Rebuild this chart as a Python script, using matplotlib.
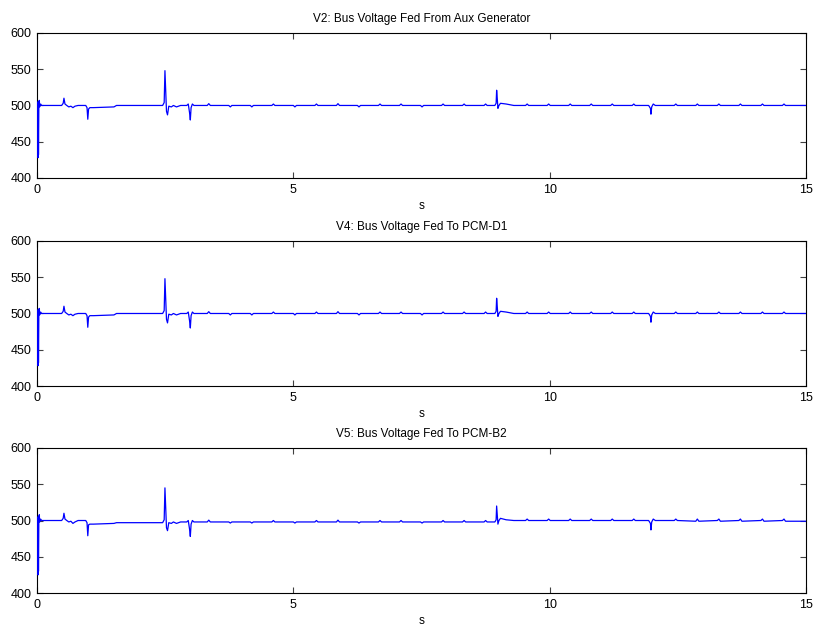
import matplotlib
matplotlib.use("Agg")
import matplotlib.pyplot as plt

plt.rcParams['font.family'] = ['Liberation Sans', 'DejaVu Sans']

titles = ["V2: Bus Voltage Fed From Aux Generator",
          "V4: Bus Voltage Fed To PCM-D1",
          "V5: Bus Voltage Fed To PCM-B2"]

# time points (s)
t = [0.000, 0.012, 0.016, 0.020, 0.024, 0.028, 0.036, 0.045, 0.050, 0.070,
     0.090, 0.480, 0.510, 0.525, 0.545, 0.580, 0.620, 0.660, 0.700, 0.740,
     0.800, 0.950, 0.975, 0.990, 1.005, 1.030, 1.100, 1.500, 1.550, 2.450,
     2.480, 2.495, 2.510, 2.525, 2.545, 2.570, 2.620, 2.660, 2.720, 2.800,
     2.920, 2.950, 2.975, 2.990, 3.005, 3.030, 3.060,
     3.32, 3.35, 3.38, 3.74, 3.77, 3.80, 4.16, 4.19, 4.22, 4.58, 4.61, 4.64,
     5.00, 5.03, 5.06, 5.42, 5.45, 5.48, 5.84, 5.87, 5.90, 6.25, 6.28, 6.31,
     6.66, 6.69, 6.72, 7.07, 7.10, 7.13, 7.48, 7.51, 7.54, 7.89, 7.92, 7.95,
     8.30, 8.33, 8.36, 8.72, 8.75, 8.78,
     8.930, 8.955, 8.965, 8.975, 8.990, 9.010, 9.040, 9.150, 9.300,
     9.53, 9.56, 9.59, 9.95, 9.98, 10.01, 10.37, 10.40, 10.43, 10.78, 10.81, 10.84,
     11.19, 11.22, 11.25, 11.61, 11.64, 11.67,
     11.930, 11.965, 11.975, 11.990, 12.020, 12.060,
     12.43, 12.46, 12.49, 12.85, 12.88, 12.91, 13.27, 13.30, 13.33, 13.69, 13.72, 13.75,
     14.12, 14.15, 14.18, 14.54, 14.57, 14.60,
     15.00]

# bus voltages (V)
v2 = [500, 430, 505, 428, 500, 432, 506, 507, 498, 502,
      500, 500, 503, 510, 502, 500, 498, 499, 497, 499,
      500, 500, 497, 481, 495, 497, 497, 498, 500, 500,
      504, 548, 518, 492, 487, 499, 498, 500, 498, 500,
      500, 502, 490, 480, 497, 502, 500,
      500, 502.5, 500, 500, 498, 500, 500, 498, 500, 500, 502, 500,
      500, 498, 500, 500, 502, 500, 500, 502.5, 500, 500, 498, 500,
      500, 502, 500, 500, 502, 500, 500, 498, 500, 500, 502, 500,
      500, 502, 500, 500, 502, 500,
      500, 503, 521, 512, 496, 500, 503, 502, 500,
      500, 502, 500, 500, 502, 500, 500, 502, 500, 500, 502, 500,
      500, 502, 500, 500, 502, 500,
      500, 496, 488, 498, 502, 500,
      500, 502, 500, 500, 502, 500, 500, 502, 500, 500, 502, 500,
      500, 502, 500, 500, 502, 500,
      500]

v4 = list(v2)

v5 = [500, 428, 505, 425, 500, 430, 506, 508, 498, 502,
      500, 500, 503, 510, 502, 500, 498, 499, 496, 498,
      500, 500, 497, 479, 494, 495, 495, 496, 497, 497,
      501, 545, 516, 490, 486, 497, 496, 498, 496, 498,
      498, 500, 488, 478, 495, 500, 498,
      498, 500.5, 498, 498, 496.5, 498, 498, 496.5, 498, 498, 500, 498,
      498, 496.5, 498, 498, 500, 498, 498, 500.5, 498, 498, 496.5, 498,
      498, 500, 498, 498, 500, 498, 498, 496.5, 498, 498, 500, 498,
      498, 500, 498, 498, 500, 498,
      498, 501, 520, 510, 495, 500, 503, 501, 500,
      500, 502, 500, 500, 502, 500, 500, 502, 500, 500, 502, 500,
      500, 502, 500, 500, 502, 500,
      500, 496, 487, 498, 502, 500,
      500, 502, 500, 499, 502, 499, 500, 502, 499, 500, 502, 499,
      500, 502, 499, 500, 502, 499,
      499]

series = [v2, v4, v5]

xticks = [0, 5, 10, 15]
yticks = [400, 450, 500, 550, 600]

fig = plt.figure(figsize=(8.14, 6.30), dpi=100)
bottoms = [0.7175, 0.3873, 0.0587]
for vals, title, b in zip(series, titles, bottoms):
    ax = fig.add_axes([0.0455, b, 0.9447, 0.2302])
    ax.plot(t, vals, color=(0, 0, 1), lw=0.9, zorder=3)
    ax.set_xlim(0, 15)
    ax.set_ylim(400, 600)
    ax.set_xticks(xticks)
    ax.set_yticks(yticks)
    ax.tick_params(direction='in', top=True, right=True, length=4,
                   width=0.8, color='#404040', labelsize=9, pad=4)
    for sp in ax.spines.values():
        sp.set_linewidth(0.8)
    ax.set_title(title, fontsize=8.5, pad=8)
    ax.set_xlabel("s", fontsize=8.5, labelpad=3)

fig.savefig("out.png", dpi=100)
